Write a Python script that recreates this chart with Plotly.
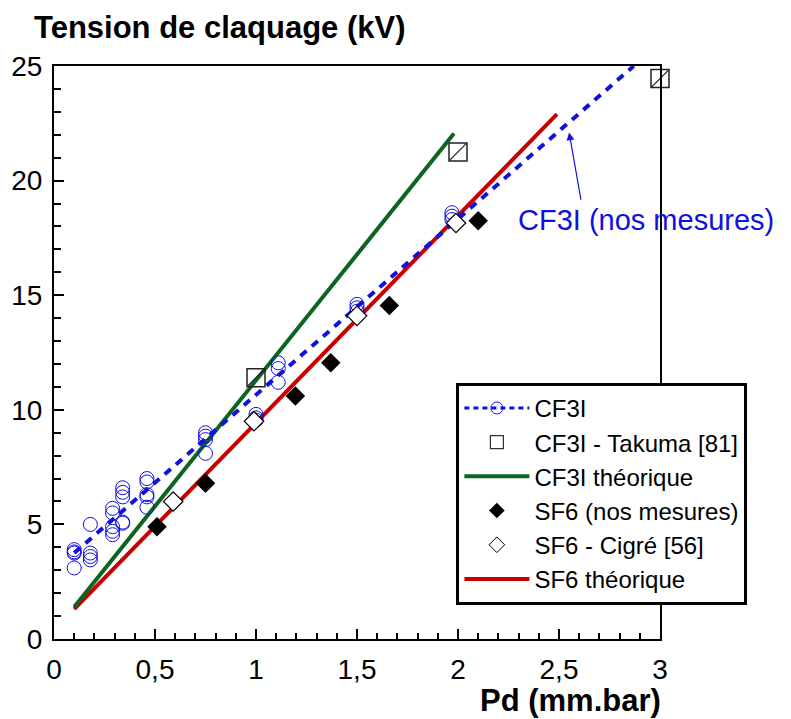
import plotly.graph_objects as go

# CF3I (nos mesures)
cf3i_x = [0.1, 0.1, 0.1, 0.1, 0.18, 0.18, 0.18, 0.18,
          0.29, 0.29, 0.29, 0.29, 0.29, 0.34, 0.34, 0.34, 0.34, 0.34,
          0.46, 0.46, 0.46, 0.46, 0.46, 0.75, 0.75, 0.75, 0.75,
          1.0, 1.0, 1.0, 1.11, 1.11, 1.11, 1.5, 1.5, 1.5, 1.97, 1.97, 1.97]
cf3i_y = [3.9, 3.8, 3.75, 3.1, 5.0, 3.75, 3.6, 3.45,
          5.7, 5.5, 4.9, 4.7, 4.55, 6.6, 6.4, 6.2, 5.1, 5.05,
          7.0, 6.85, 6.3, 6.2, 5.75, 9.0, 8.85, 8.7, 8.1,
          9.8, 9.65, 9.55, 12.05, 11.8, 11.2, 14.6, 14.45, 14.3, 18.6, 18.45, 18.3]
cf3i_fit_x = [0.1, 2.87]
cf3i_fit_y = [3.75, 25.0]

takuma_x = [1.0, 2.0, 3.0]
takuma_y = [11.4, 21.25, 24.45]

cf3i_th_x = [0.1, 1.98]
cf3i_th_y = [1.4, 22.05]

sf6_x = [0.51, 0.75, 1.195, 1.37, 1.66, 2.1]
sf6_y = [4.9, 6.8, 10.6, 12.05, 14.55, 18.25]

cigre_x = [0.59, 0.99, 1.5, 1.99]
cigre_y = [6.0, 9.5, 14.1, 18.15]

sf6_th_x = [0.1, 2.49]
sf6_th_y = [1.3, 22.9]

BLUE = '#1010e0'
GREEN = '#0b6420'
RED = '#c80000'
ARIAL = 'Liberation Sans, Arial, sans-serif'

fig = go.Figure()

fig.add_trace(go.Scatter(x=sf6_th_x, y=sf6_th_y, mode='lines',
                         line=dict(color=RED, width=4), showlegend=False))
fig.add_trace(go.Scatter(x=cf3i_th_x, y=cf3i_th_y, mode='lines',
                         line=dict(color=GREEN, width=4), showlegend=False))
fig.add_trace(go.Scatter(x=cf3i_fit_x, y=cf3i_fit_y, mode='lines',
                         line=dict(color=BLUE, width=4, dash='8px,7px'), showlegend=False))
fig.add_trace(go.Scatter(x=cf3i_x, y=cf3i_y, mode='markers',
                         marker=dict(symbol='circle-open', size=14, color=BLUE,
                                     line=dict(width=1)),
                         showlegend=False))
fig.add_trace(go.Scatter(x=takuma_x, y=takuma_y, mode='markers',
                         marker=dict(symbol='square-open', size=18, color='#222',
                                     line=dict(width=1.5)),
                         showlegend=False, cliponaxis=False))
fig.add_trace(go.Scatter(x=takuma_x, y=takuma_y, mode='markers',
                         marker=dict(symbol='line-ne', size=17, color='#222',
                                     line=dict(width=1.2, color='#222')),
                         showlegend=False, cliponaxis=False))
fig.add_trace(go.Scatter(x=sf6_x, y=sf6_y, mode='markers',
                         marker=dict(symbol='diamond', size=15, color='black'),
                         showlegend=False))
fig.add_trace(go.Scatter(x=cigre_x, y=cigre_y, mode='markers',
                         marker=dict(symbol='diamond', size=15, color='white',
                                     line=dict(width=1.2, color='black')),
                         showlegend=False))

# legend entries
fig.add_trace(go.Scatter(x=[None], y=[None], mode='lines+markers', name='CF3I',
                         line=dict(color=BLUE, width=3, dash='5px,4px'),
                         marker=dict(symbol='circle-open', size=12, color=BLUE,
                                     line=dict(width=1)), legendgroup='a'))
fig.add_trace(go.Scatter(x=[None], y=[None], mode='markers', name='CF3I - Takuma [81]',
                         marker=dict(symbol='square-open', size=13, color='#333',
                                     line=dict(width=1.2)), legendgroup='b'))
fig.add_trace(go.Scatter(x=[None], y=[None], mode='lines', name='CF3I théorique',
                         line=dict(color=GREEN, width=4), legendgroup='c'))
fig.add_trace(go.Scatter(x=[None], y=[None], mode='markers', name='SF6 (nos mesures)',
                         marker=dict(symbol='diamond', size=12, color='black'),
                         legendgroup='d'))
fig.add_trace(go.Scatter(x=[None], y=[None], mode='markers', name='SF6 - Cigré [56]',
                         marker=dict(symbol='diamond', size=12, color='white',
                                     line=dict(width=1, color='black')),
                         legendgroup='e'))
fig.add_trace(go.Scatter(x=[None], y=[None], mode='lines', name='SF6 théorique',
                         line=dict(color=RED, width=4), legendgroup='f'))

fig.update_layout(
    width=783, height=711,
    margin=dict(l=46, r=131, t=58, b=80),
    paper_bgcolor='white', plot_bgcolor='white',
    separators=',.',
    font=dict(family=ARIAL, size=28, color='black'),
    xaxis=dict(range=[0, 3], dtick=0.5, showgrid=False, zeroline=False,
               showline=True, linecolor='black', linewidth=2, mirror=True,
               ticks='inside', ticklen=10, tickwidth=2, tickcolor='black',
               ticklabelstandoff=4, automargin=False,
               minor=dict(dtick=0.1, ticks='inside', ticklen=6, tickwidth=1.5,
                          tickcolor='black')),
    yaxis=dict(range=[0, 25], dtick=5, showgrid=False, zeroline=False,
               showline=True, linecolor='black', linewidth=2, mirror=True,
               ticks='inside', ticklen=10, tickwidth=2, tickcolor='black',
               ticklabelstandoff=4, automargin=False,
               minor=dict(dtick=1, ticks='inside', ticklen=7, tickwidth=1.5,
                          tickcolor='black')),
    legend=dict(x=0.664, y=0.447, xanchor='left', yanchor='top',
                bgcolor='white', bordercolor='black', borderwidth=3,
                font=dict(family=ARIAL, size=24),
                traceorder='grouped', tracegroupgap=0, itemwidth=65),
    annotations=[
        dict(text='<b>Tension de claquage (kV)</b>', xref='paper', yref='paper',
             x=-0.036, y=1.068, xanchor='left', yanchor='middle', showarrow=False,
             font=dict(size=31)),
        dict(text='<b>Pd (mm.bar)</b>', xref='paper', yref='paper',
             x=1.005, y=-0.107, xanchor='right', yanchor='middle', showarrow=False,
             font=dict(size=31)),
        dict(text='CF3I (nos mesures)', x=2.93, y=18.3, xref='x', yref='y',
             showarrow=False,
             font=dict(family=ARIAL, size=29, color=BLUE)),
        dict(text='', x=2.55, y=22.1, xref='x', yref='y',
             showarrow=True, ax=2.61, ay=19.1, axref='x', ayref='y',
             arrowhead=2, arrowsize=1.3, arrowwidth=1.2, arrowcolor=BLUE,
             standoff=0, startstandoff=0),
    ],
)

fig.write_html("out.html")
